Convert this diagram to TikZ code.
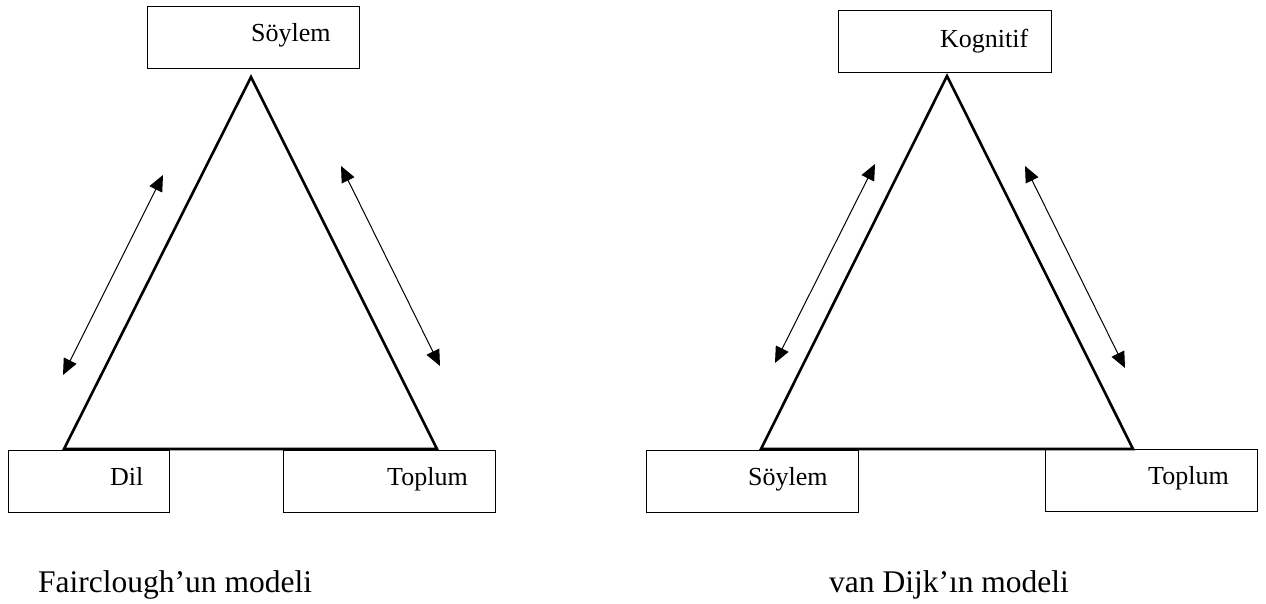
\documentclass[tikz,border=0pt]{standalone}
\usepackage{fontspec}
\setmainfont{Liberation Serif}
\usetikzlibrary{arrows.meta}
\tikzset{
  box/.style={draw=black, line width=1pt, rectangle, inner sep=0pt, minimum width=212pt, minimum height=62pt},
  lbl/.style={inner sep=0pt, anchor=base west, font=\fontsize{26}{30}\selectfont},
  captext/.style={inner sep=0pt, anchor=base west, font=\fontsize{31.5}{36}\selectfont},
  tri/.style={line width=2.6pt, line join=miter},
  dbl/.style={line width=1pt, {Triangle[length=16pt,width=14pt]}-{Triangle[length=16pt,width=14pt]}}
}
\begin{document}
\begin{tikzpicture}[x=1pt,y=-1pt]
\useasboundingbox (0,0) rectangle (1266,604);
% ---------- Fairclough ----------
\node[box] (ltop) at (253,37.5) {};
\node[box, minimum width=161pt] (ldil) at (88.5,481) {};
\node[box] (ltop2) at (389,481) {};
\node[lbl] (ltopt) at (251,42) {Söylem};
\node[lbl] (ldilt) at (110,485) {Dil};
\node[lbl] (ltopl) at (387,485) {Toplum};
\coordinate (la) at (251,77);
\coordinate (lb) at (64,449);
\coordinate (lc) at (437,449);
\draw[tri] (la) -- (lb) -- (lc) -- cycle;
\coordinate (l1a) at (63,375);
\coordinate (l1b) at (163,175);
\coordinate (l2a) at (341,166);
\coordinate (l2b) at (440,366);
\draw[dbl] (l1a) -- (l1b);
\draw[dbl] (l2a) -- (l2b);
\node[captext] (lcap) at (38,592) {Fairclough’un modeli};
% ---------- van Dijk ----------
\node[box, minimum width=213pt] (rtop) at (944.5,42) {};
\node[box] (rsoy) at (752,481) {};
\node[box] (rtop2) at (1151,480) {};
\node[lbl] (rtopt) at (940,48) {Kognitif};
\node[lbl] (rsoyt) at (748,485) {Söylem};
\node[lbl] (rtopl) at (1148,484) {Toplum};
\coordinate (ra) at (947,76);
\coordinate (rb) at (761,449);
\coordinate (rc) at (1133,449);
\draw[tri] (ra) -- (rb) -- (rc) -- cycle;
\coordinate (r1a) at (775,363);
\coordinate (r1b) at (875,164);
\coordinate (r2a) at (1025,166);
\coordinate (r2b) at (1125,368);
\draw[dbl] (r1a) -- (r1b);
\draw[dbl] (r2a) -- (r2b);
\node[captext] (rcap) at (829,592) {van Dijk’ın modeli};
\end{tikzpicture}
\end{document}
